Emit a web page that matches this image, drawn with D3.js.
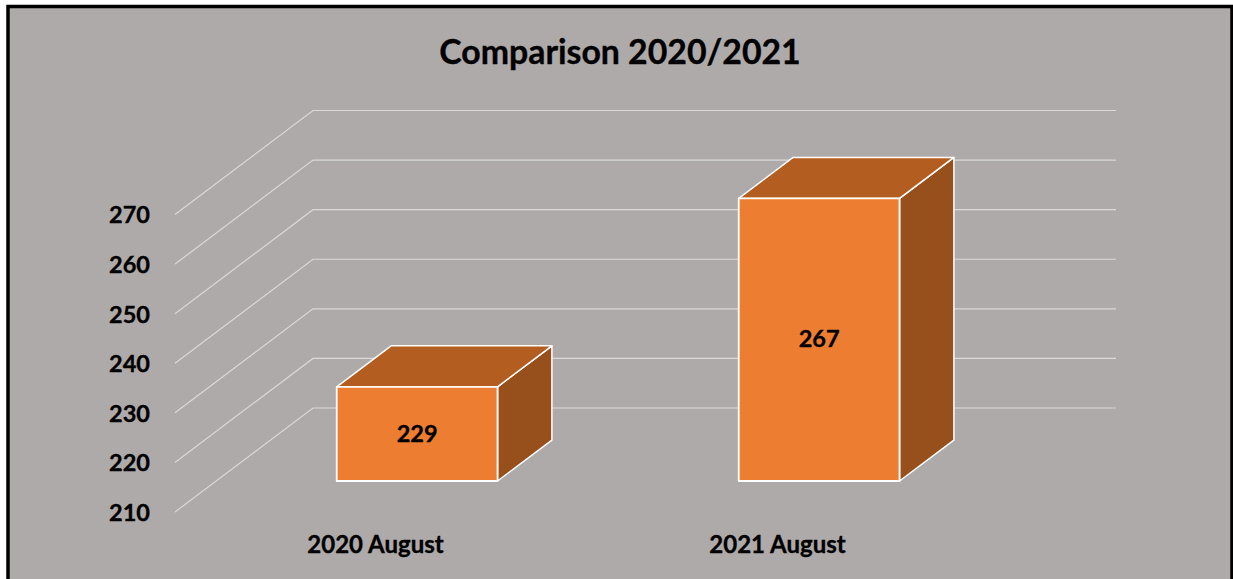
<html>
<head>
    <title>Comparison 2020/2021</title>
    <script src="https://d3js.org/d3.v7.min.js"></script>
    <style>
        html, body { margin: 0; padding: 0; background: #fff; overflow: hidden; }
        text { font-family: Lato, "Open Sans", sans-serif; font-weight: 700; fill: #000; stroke: #000; stroke-width: 0.35px; }
    </style>
</head>
<body>
<div id="chart"></div>
<script>
    // values
    var categories = ["2020 August", "2021 August"];
    var values = [229, 267];
    var tickValues = [210, 220, 230, 240, 250, 260, 270];
    var chartTitle = "Comparison 2020/2021";

    var width = 1233, height = 579;

    var svg = d3.select("#chart").append("svg")
        .attr("width", width)
        .attr("height", height)
        .style("display", "block");

    // background + thick black frame (bottom runs off the page)
    svg.append("rect")
        .attr("x", 8).attr("y", 6.5)
        .attr("width", 1224).attr("height", 600)
        .attr("fill", "#AEAAA9")
        .attr("stroke", "#000")
        .attr("stroke-width", 3.5);

    // scales are for the front plane, depth pushes things back and up
    var x = d3.scaleBand().domain(categories).range([175, 979]).paddingInner(0.6).paddingOuter(0.3);
    var y = d3.scaleLinear().domain([210, 270]).range([512, 214.5]);
    var depthX = 138, depthY = 104;

    function px(v, d) { return v + depthX * d; }
    function py(v, d) { return y(v) - depthY * d; }

    // gridlines, floor edge + back wall
    var xLeft = x.range()[0], xRight = x.range()[1];
    svg.append("g").selectAll("path")
        .data(tickValues)
        .enter().append("path")
        .attr("fill", "none")
        .attr("stroke", "#D9D9D9")
        .attr("stroke-width", 1.2)
        .attr("d", function(t) {
            var p = d3.path();
            p.moveTo(px(xLeft, 0), py(t, 0));
            p.lineTo(px(xLeft, 1), py(t, 1));
            p.lineTo(px(xRight, 1) - 1, py(t, 1));
            return p.toString();
        });

    // axes only carry the labels
    var yAxis = svg.append("g")
        .attr("transform", "translate(150,0)")
        .call(d3.axisLeft(y).tickValues(tickValues).tickSize(0).tickPadding(0));
    yAxis.select(".domain").remove();
    yAxis.selectAll("text").style("font-size", "23.5px").attr("dy", "0.36em");

    var xAxis = svg.append("g")
        .attr("transform", "translate(-0.5,536)")
        .call(d3.axisBottom(x).tickSize(0).tickPadding(0));
    xAxis.select(".domain").remove();
    xAxis.selectAll("text").style("font-size", "24px");

    // 3d bars, front face at depth d0 and back at depth d1
    var d0 = 0.298, d1 = 0.692;
    var baseValue = y.domain()[0];
    var faceLine = d3.line();

    var bars = svg.append("g").selectAll("g")
        .data(categories)
        .enter().append("g")
        .attr("stroke", "#fff")
        .attr("stroke-linejoin", "round");

    bars.append("path") // side
        .attr("fill", "#974F1C")
        .attr("stroke-width", 1.5)
        .attr("d", function(c, i) {
            var r = x(c) + x.bandwidth();
            return faceLine([
                [px(r, d0), py(baseValue, d0)], [px(r, d1), py(baseValue, d1)],
                [px(r, d1), py(values[i], d1)], [px(r, d0), py(values[i], d0)]
            ]) + "Z";
        });

    bars.append("path") // top
        .attr("fill", "#B45D20")
        .attr("stroke-width", 1.5)
        .attr("d", function(c, i) {
            var l = x(c), r = x(c) + x.bandwidth();
            return faceLine([
                [px(l, d0), py(values[i], d0)], [px(l, d1), py(values[i], d1)],
                [px(r, d1), py(values[i], d1)], [px(r, d0), py(values[i], d0)]
            ]) + "Z";
        });

    bars.append("path") // front
        .attr("fill", "#ED7D31")
        .attr("stroke-width", 1.8)
        .attr("d", function(c, i) {
            var l = x(c), r = x(c) + x.bandwidth();
            return faceLine([
                [px(l, d0), py(baseValue, d0)], [px(r, d0), py(baseValue, d0)],
                [px(r, d0), py(values[i], d0)], [px(l, d0), py(values[i], d0)]
            ]) + "Z";
        });

    // value labels in the middle of the front face
    bars.append("text")
        .attr("text-anchor", "middle")
        .attr("dy", "0.33em")
        .style("font-size", "23.5px")
        .attr("x", function(c) { return px(x(c) + x.bandwidth() / 2, d0); })
        .attr("y", function(c, i) { return (py(baseValue, d0) + py(values[i], d0)) / 2; })
        .text(function(c, i) { return values[i]; });

    svg.append("text")
        .attr("x", 620)
        .attr("y", 64)
        .attr("text-anchor", "middle")
        .style("font-size", "33.8px")
        .text(chartTitle);
</script>
</body>
</html>
